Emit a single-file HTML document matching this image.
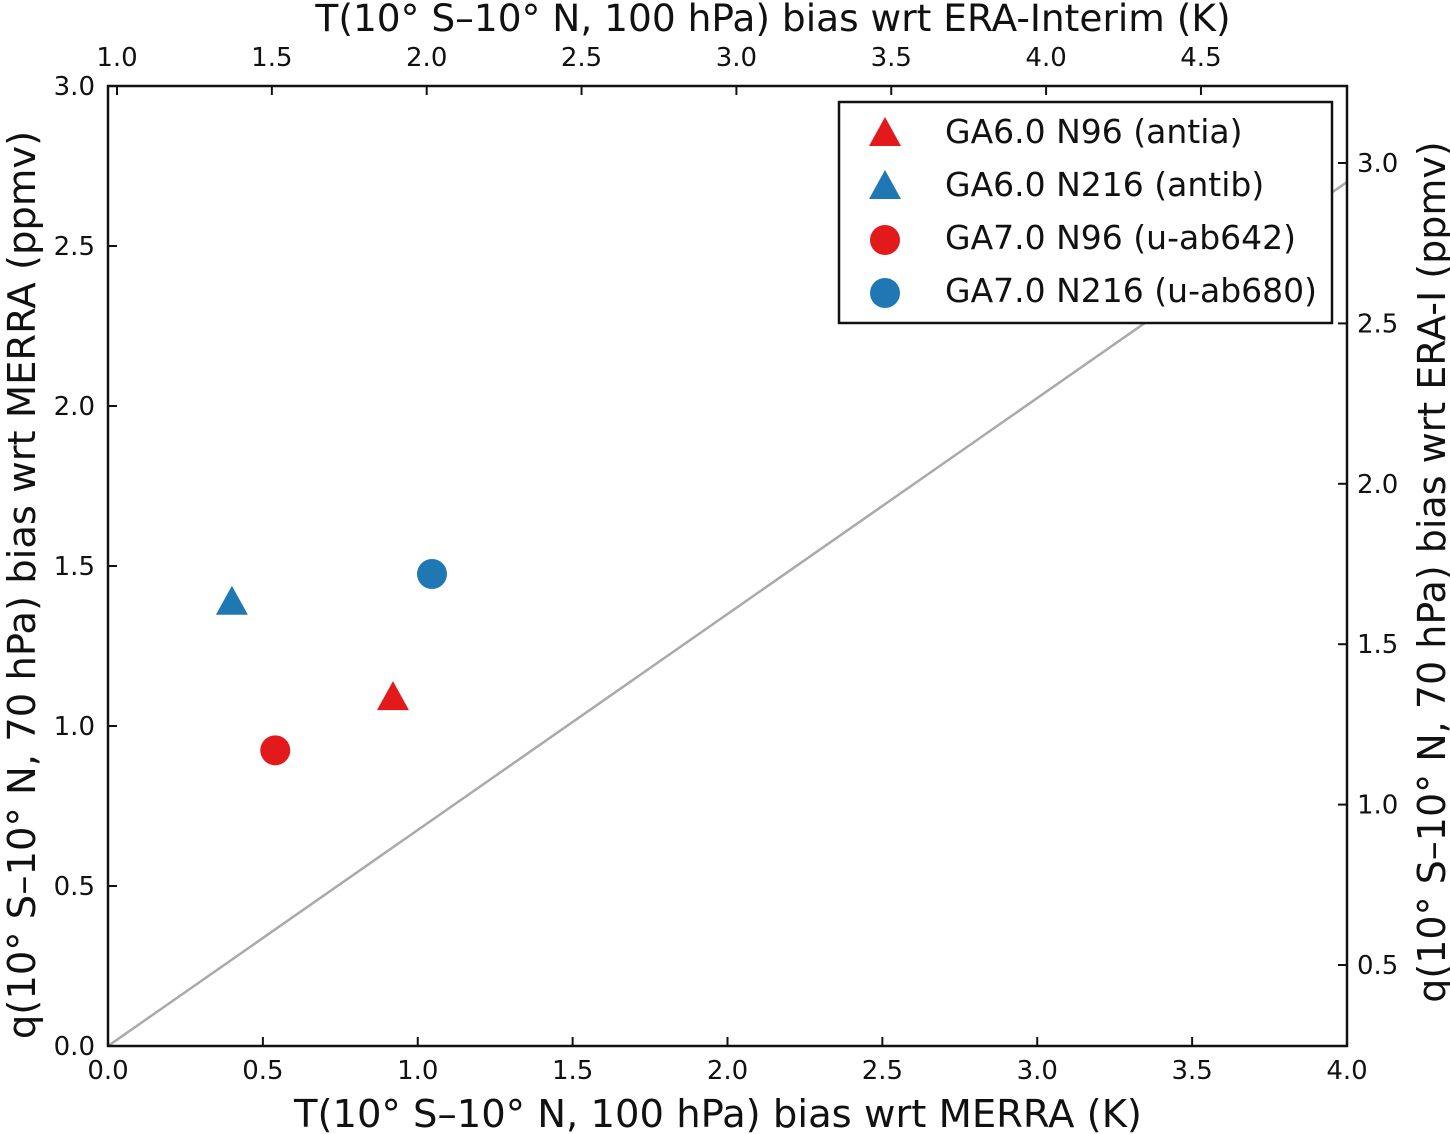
<!DOCTYPE html>
<html><head><meta charset="utf-8"><style>
body{margin:0;background:#fff;}
svg{display:block;font-family:"DejaVu Sans","Liberation Sans",sans-serif;}
</style></head><body>
<svg id="chart" width="1450" height="1134" viewBox="0 0 1450 1134" xmlns="http://www.w3.org/2000/svg">
<g id="g"></g>
</svg>
<script>
const seriesNames = ["GA6.0 N96 (antia)","GA6.0 N216 (antib)","GA7.0 N96 (u-ab642)","GA7.0 N216 (u-ab680)"];
const seriesX = [0.92, 0.40, 0.54, 1.046];
const seriesY = [1.087, 1.385, 0.924, 1.475];
const seriesColor = ["#e31a1c","#1f78b4","#e31a1c","#1f78b4"];
const seriesShape = ["tri","tri","circ","circ"];
const bottomTicks = ["0.0","0.5","1.0","1.5","2.0","2.5","3.0","3.5","4.0"];
const leftTicks = ["0.0","0.5","1.0","1.5","2.0","2.5","3.0"];
const topTicks = ["1.0","1.5","2.0","2.5","3.0","3.5","4.0","4.5"];
const rightTicks = ["0.5","1.0","1.5","2.0","2.5","3.0"];
const refLine = [[0,0],[4,2.7]];

const L=108,R=1347,T=86,B=1046;
const X=v=>L+(v-0)/4*(R-L);
const Y=v=>B-(v/3)*(B-T);
const XT=v=>117+(v-1.0)*309.7;
const YR=v=>965-(v-0.5)*320.8;
const ns="http://www.w3.org/2000/svg";
const g=document.getElementById('g');
function mk(tag,attrs,text){const e=document.createElementNS(ns,tag);for(const k in attrs)e.setAttribute(k,attrs[k]);if(text!==undefined)e.textContent=text;g.appendChild(e);return e;}

let rl=mk('line',{x1:X(refLine[0][0]),y1:Y(refLine[0][1]),x2:X(refLine[1][0]),y2:Y(refLine[1][1]),stroke:'#aaa','stroke-width':2.5});



let fr=mk('rect',{x:L,y:T,width:R-L,height:B-T,fill:'none',stroke:'#111','stroke-width':2.5});



bottomTicks.forEach(t=>{const v=+t,x=X(v);
 mk('line',{x1:x,y1:B,x2:x,y2:B-9,stroke:'#111','stroke-width':2});
 let e=mk('text',{x:x,y:B+33,'text-anchor':'middle','font-size':26,fill:'#111'},t);
 
 });
leftTicks.forEach(t=>{const v=+t,y=Y(v);
 mk('line',{x1:L,y1:y,x2:L+9,y2:y,stroke:'#111','stroke-width':2});
 let e=mk('text',{x:L-13,y:y+9,'text-anchor':'end','font-size':26,fill:'#111'},t);
 
 });
topTicks.forEach(t=>{const v=+t,x=XT(v);
 mk('line',{x1:x,y1:T,x2:x,y2:T+9,stroke:'#111','stroke-width':2});
 let e=mk('text',{x:x,y:T-20,'text-anchor':'middle','font-size':26,fill:'#111'},t);
 
 });
rightTicks.forEach(t=>{const v=+t,y=YR(v);
 mk('line',{x1:R,y1:y,x2:R-9,y2:y,stroke:'#111','stroke-width':2});
 let e=mk('text',{x:R+10,y:y+9,'font-size':26,fill:'#111'},t);
 
 });

function marker(shape,cx,cy,col){
 if(shape==='tri') return mk('polygon',{points:`${cx},${cy-17} ${cx-16},${cy+12} ${cx+16},${cy+12}`,fill:col});
 return mk('circle',{cx:cx,cy:cy,r:15,fill:col});
}
seriesX.forEach((v,i)=>{let m=marker(seriesShape[i],X(v),Y(seriesY[i]),seriesColor[i]);
 
 });

let lb=mk('rect',{x:839,y:102,width:493,height:221,fill:'#fff',stroke:'#111','stroke-width':2.5});


seriesNames.forEach((n,i)=>{const y=132+i*53;
 marker(seriesShape[i],885,y+2,seriesColor[i]);
 let e=mk('text',{x:945,y:y+11,'font-size':33,fill:'#111'},n);
 
 });

let xt=mk('text',{x:718,y:1127,'text-anchor':'middle','font-size':38.5,fill:'#111'},'T(10° S–10° N, 100 hPa) bias wrt MERRA (K)');


let tt=mk('text',{x:773,y:31,'text-anchor':'middle','font-size':37.5,fill:'#111'},'T(10° S–10° N, 100 hPa) bias wrt ERA-Interim (K)');


let yt=mk('text',{x:0,y:0,'text-anchor':'middle','font-size':38.5,fill:'#111',transform:'translate(35,585) rotate(-90)'},'q(10° S–10° N, 70 hPa) bias wrt MERRA (ppmv)');


let rt=mk('text',{x:0,y:0,'text-anchor':'middle','font-size':38,fill:'#111',transform:'translate(1445,572) rotate(-90)'},'q(10° S–10° N, 70 hPa) bias wrt ERA-I (ppmv)');


</script>
</body></html>
